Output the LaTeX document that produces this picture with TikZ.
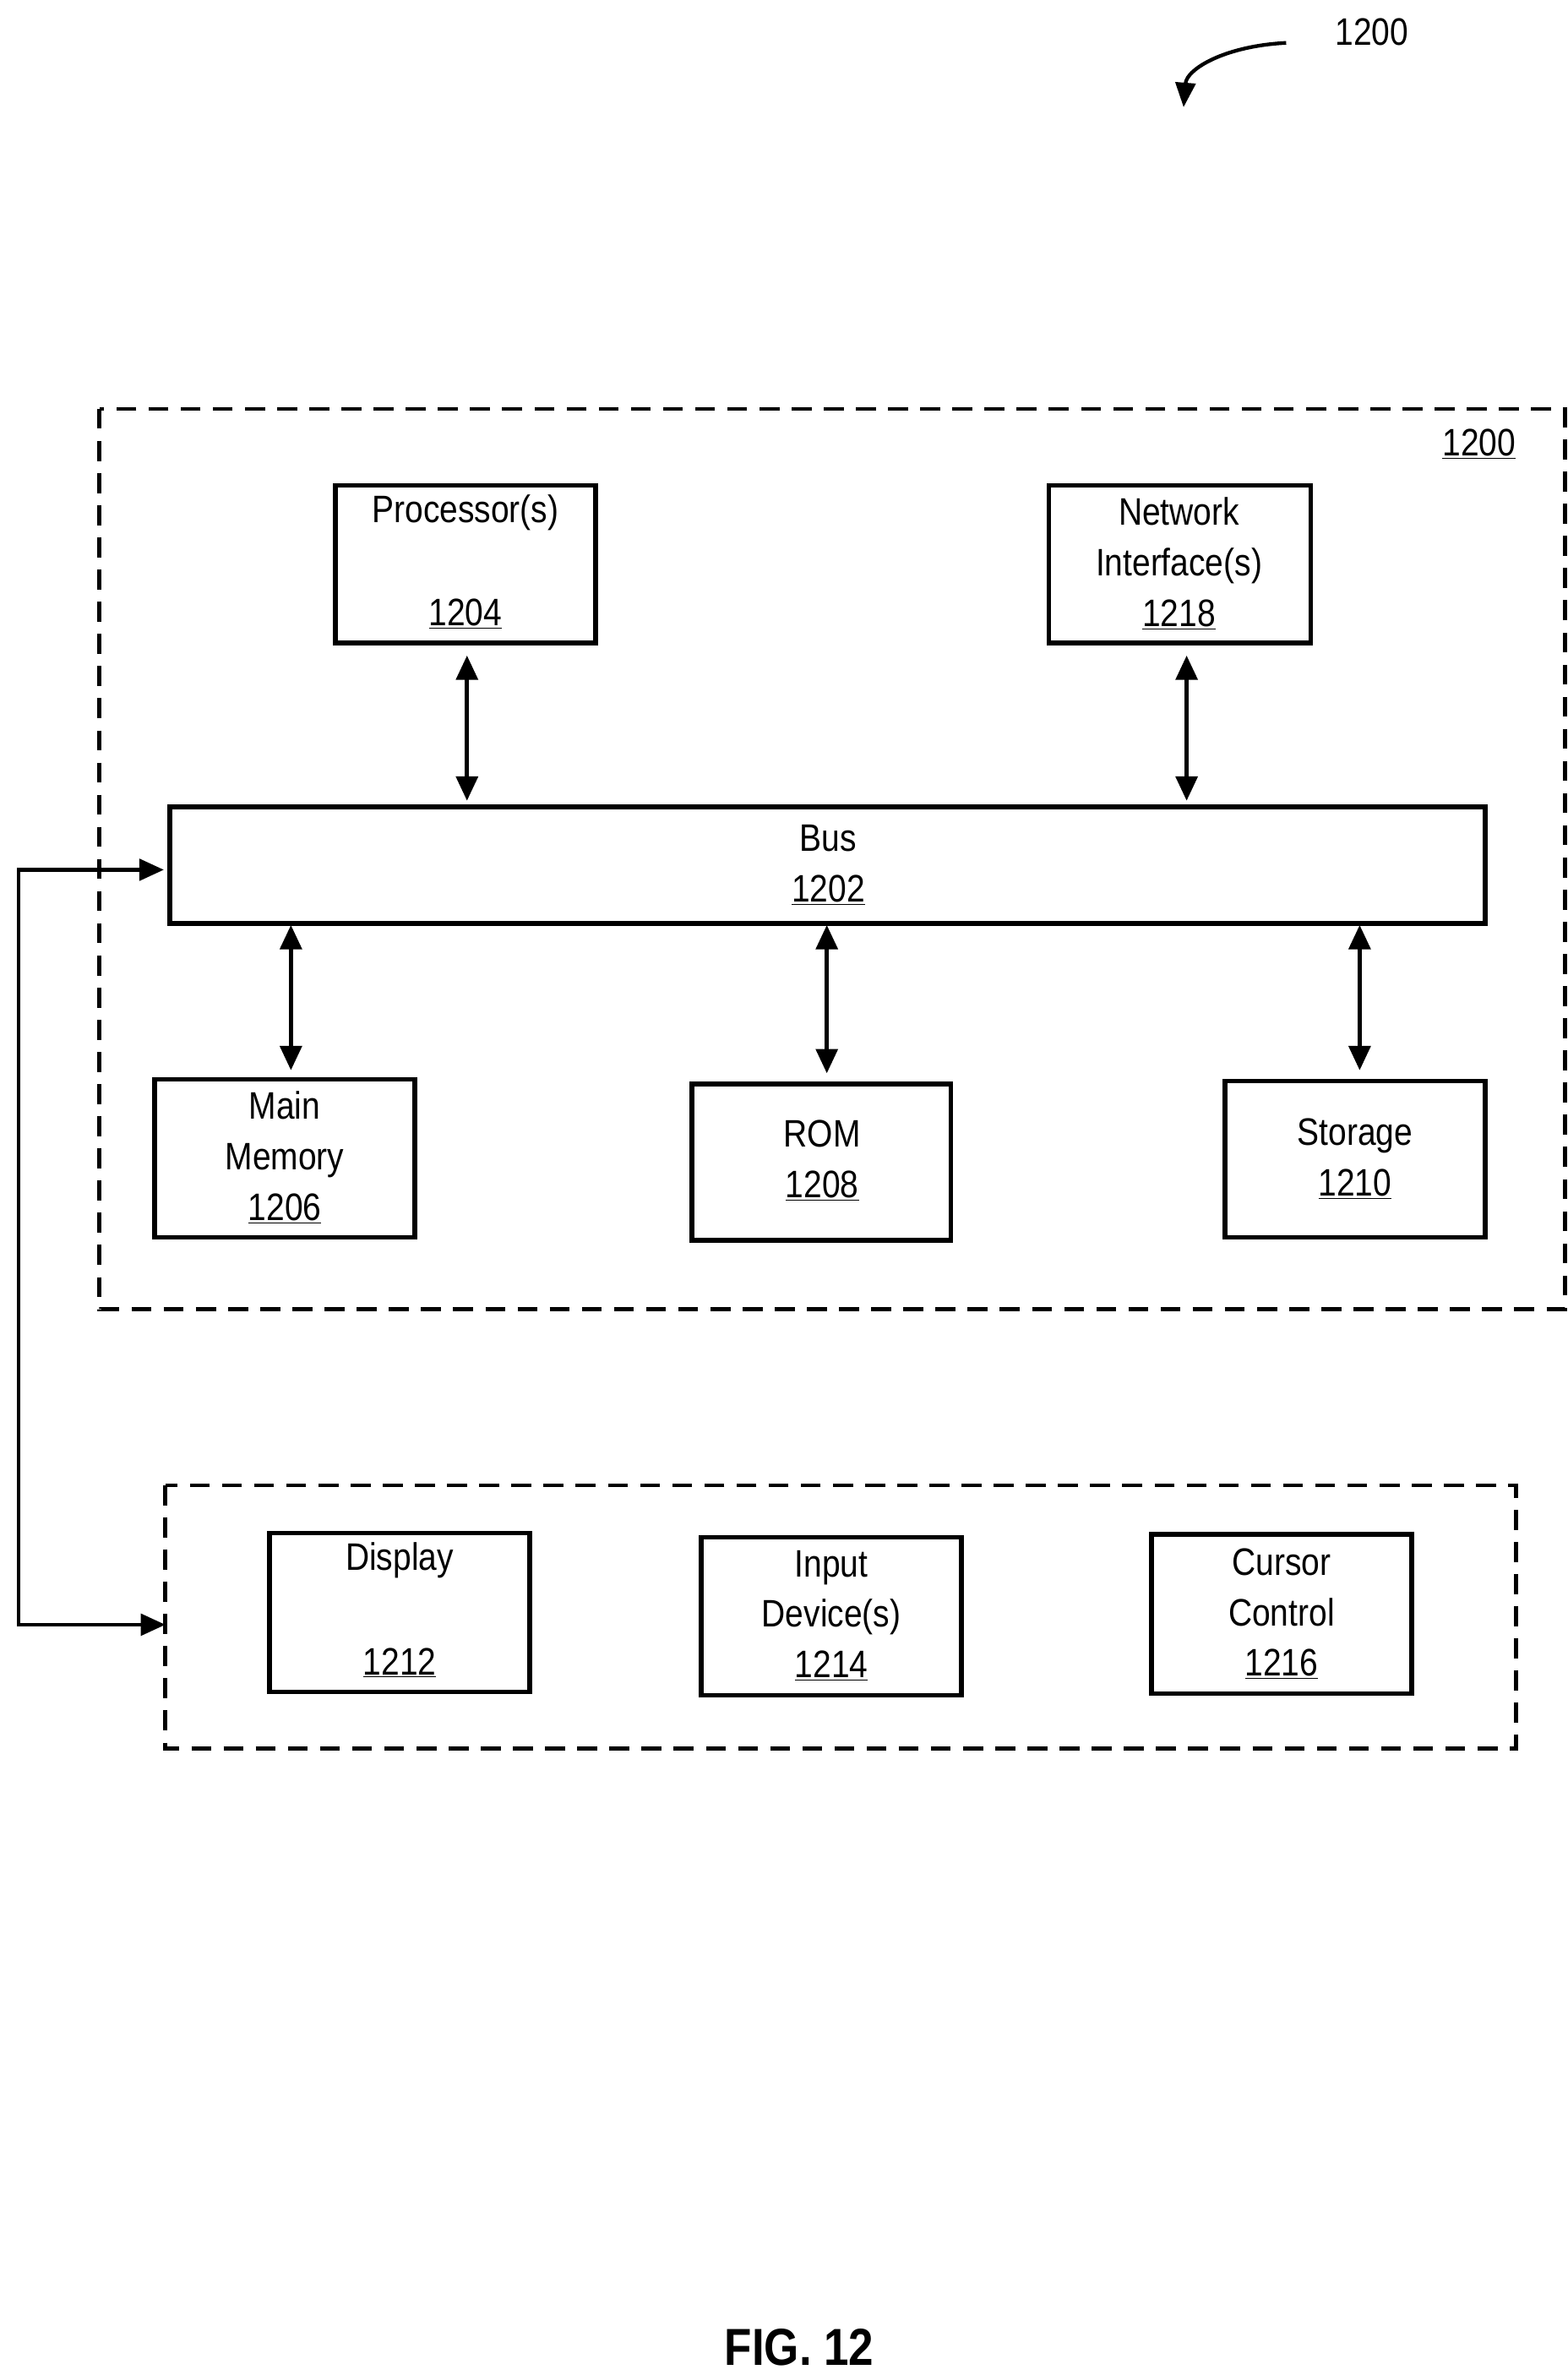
\documentclass[tikz,border=0pt]{standalone}
\usepackage{fontspec}
\setmainfont{Liberation Sans}[FakeStretch=0.86]
\usetikzlibrary{arrows.meta}
\begin{document}
\begin{tikzpicture}[x=1pt,y=-1pt,
  box/.style={draw,line width=3pt},
  dbox/.style={draw,line width=2.6pt,dash pattern=on 13pt off 8pt},
  arr/.style={line width=3pt,{Triangle[length=16pt,width=14pt]}-{Triangle[length=16pt,width=14pt]}},
  lbl/.style={font=\fontsize{25}{33}\selectfont,align=center,inner sep=0pt}]
\useasboundingbox (0,0) rectangle (1024,1551);
\draw[dbox] (65,267) rectangle (1022,855);
\node[lbl] (l1200) at (966,290) {\underline{1200}};
\draw[box] (219,317) rectangle (389,420);
\node[lbl] (proc) at (304,335) {Processor(s)};
\node[lbl] (procn) at (304,401) {\underline{1204}};
\draw[box] (685,317) rectangle (856,420);
\node[lbl] (net) at (770,368) {Network\\Interface(s)\\\underline{1218}};
\draw[box] (111,527) rectangle (970,603);
\node[lbl] (bus) at (541,565) {Bus\\\underline{1202}};
\draw[box] (101,705) rectangle (271,808);
\node[lbl] (mm) at (186,756) {Main\\Memory\\\underline{1206}};
\draw[box] (452,708) rectangle (621,810);
\node[lbl] (rom) at (537,758) {ROM\\\underline{1208}};
\draw[box] (800,706) rectangle (970,808);
\node[lbl] (sto) at (885,757) {Storage\\\underline{1210}};
\coordinate (p1) at (305,428); \coordinate (p2) at (305,523);
\coordinate (n1) at (775,428); \coordinate (n2) at (775,523);
\coordinate (m1) at (190,604); \coordinate (m2) at (190,699);
\coordinate (r1) at (540,604); \coordinate (r2) at (540,701);
\coordinate (s1) at (888,604); \coordinate (s2) at (888,699);
\draw[arr] (p1) -- (p2); \draw[arr] (n1) -- (n2);
\draw[arr] (m1) -- (m2); \draw[arr] (r1) -- (r2); \draw[arr] (s1) -- (s2);
\draw[dbox] (108,970) rectangle (990,1142);
\draw[box] (176,1001) rectangle (346,1105);
\node[lbl] (disp) at (261,1019) {Display};
\node[lbl] (dispn) at (261,1086) {\underline{1212}};
\draw[box] (458,1004) rectangle (628,1107);
\node[lbl] (inp) at (543,1055) {Input\\Device(s)\\\underline{1214}};
\draw[box] (752,1002) rectangle (922,1106);
\node[lbl] (cur) at (837,1054) {Cursor\\Control\\\underline{1216}};
\coordinate (a1) at (107,568); \coordinate (a2) at (108,1061);
\draw[arr,line width=2.4pt] (a1) -- (12,568) -- (12,1061) -- (a2);
\node[lbl] (top) at (896,21) {1200};
\coordinate (c1) at (840,28); \coordinate (c2) at (773,70);
\draw[line width=2.4pt,-{Triangle[length=16pt,width=13pt]}] (c1) .. controls (800,30) and (775,45) .. (c2);
\node[lbl,font=\bfseries\fontsize{34}{38}\selectfont] (fig) at (522,1533) {FIG. 12};
\end{tikzpicture}
\end{document}
